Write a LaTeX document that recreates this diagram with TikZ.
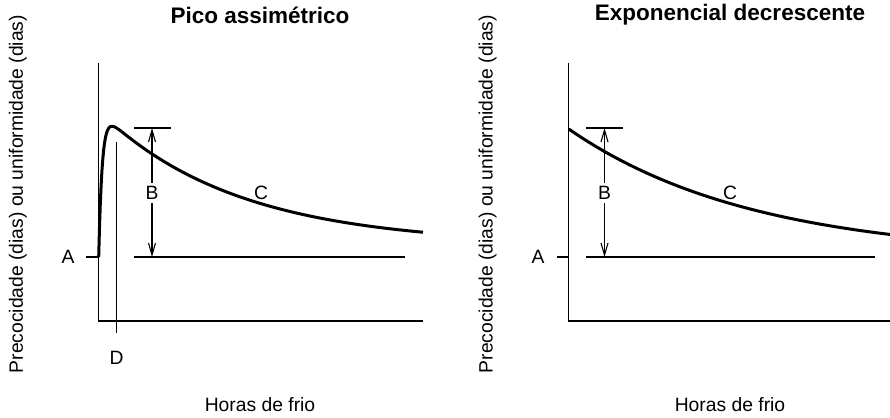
\documentclass[tikz,border=0pt]{standalone}
\usepackage{fontspec}
\setmainfont{Liberation Sans}
\usetikzlibrary{arrows.meta}
\begin{document}
\begin{tikzpicture}[x=1pt,y=-1pt,
  every node/.style={font=\fontsize{19.3}{22}\selectfont,inner sep=0pt},
  title/.style={font=\fontsize{22.5}{26}\selectfont\bfseries},
  axis/.style={line width=1.3pt},
  level/.style={line width=1.2pt},
  curve/.style={line width=3pt},
  dim/.style={line width=1.1pt,-{Straight Barb[length=12pt,width=7pt]}},
  letter/.style={fill=white,inner sep=3.5pt}]
\useasboundingbox (0,0) rectangle (890,417);

% Pico assimetrico
\node[title] (titleL) at (260,15) {Pico assimétrico};
\node[rotate=90] (ylabL) at (18,194) {Precocidade (dias) ou uniformidade (dias)};
\node (xlabL) at (260,405) {Horas de frio};
\coordinate (oL) at (98.7,321);
\coordinate (topL) at (98.7,63);
\coordinate (endL) at (423,321);
\draw[axis] (topL) -- (oL) -- (endL);
\node (aL) at (68,257) {A};
\coordinate (tickL) at (86,257);
\draw[axis] (tickL) -- (oL |- tickL);
\coordinate (baseL1) at (134,257);
\coordinate (baseL2) at (405,257);
\draw[level] (baseL1) -- (baseL2);
\coordinate (peakL1) at (134,128);
\coordinate (peakL2) at (171,128);
\draw[level] (peakL1) -- (peakL2);
\node[letter] (bL) at (152,193) {B};
\draw[dim] (bL) -- (bL |- peakL1);
\draw[dim] (bL) -- (bL |- baseL1);
\node (cL) at (261,193) {C};
\coordinate (dTop) at (116.5,142);
\node (dL) at (116.5,358) {D};
\draw[axis] (dTop) -- (116.5,333);
\draw[curve] plot[domain=0:324.3,samples=400] ({98.7+\x},{257-(12+134*exp(-\x/138))*(1-exp(-\x/3.5))});

% Exponencial decrescente
\node[title] (titleR) at (730,15) {Exponencial decrescente};
\node[rotate=90] (ylabR) at (487.7,194) {Precocidade (dias) ou uniformidade (dias)};
\node (xlabR) at (730,405) {Horas de frio};
\coordinate (oR) at (568.7,321);
\coordinate (topR) at (568.7,63);
\coordinate (endR) at (890,321);
\draw[axis] (topR) -- (oR) -- (endR);
\node (aR) at (538,257) {A};
\coordinate (tickR) at (556.7,257);
\draw[axis] (tickR) -- (oR |- tickR);
\coordinate (baseR1) at (586.3,257);
\coordinate (baseR2) at (875,257);
\draw[level] (baseR1) -- (baseR2);
\coordinate (peakR1) at (586.3,128);
\coordinate (peakR2) at (622.7,128);
\draw[level] (peakR1) -- (peakR2);
\node[letter] (bR) at (604.5,193) {B};
\draw[dim] (bR) -- (bR |- peakR1);
\draw[dim] (bR) -- (bR |- baseR1);
\node (cR) at (730,193) {C};
\draw[curve] plot[domain=0:321.3,samples=200] ({568.7+\x},{257-128*exp(-\x/185)});
\end{tikzpicture}
\end{document}
